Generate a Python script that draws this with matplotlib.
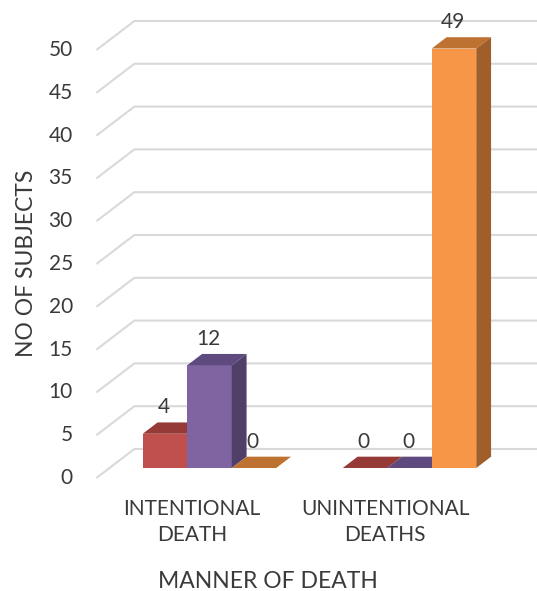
import matplotlib.pyplot as plt
from matplotlib.patches import Polygon

categories = ['INTENTIONAL\nDEATH', 'UNINTENTIONAL\nDEATHS']
red_vals = [4, 0]
purple_vals = [12, 0]
orange_vals = [0, 49]
yticks = [0, 5, 10, 15, 20, 25, 30, 35, 40, 45, 50]

# front / top / side colours for each series
front_cols = ['#C0504D', '#8064A2', '#F79646']
top_cols = ['#953A37', '#5F4A7F', '#BE7231']
side_cols = ['#8A3532', '#504069', '#A05E2A']

plt.rcParams['font.family'] = ['Lato', 'DejaVu Sans']
txt_col = '#3A3A3A'

fig = plt.figure(figsize=(5.37, 5.91), dpi=100)
ax = fig.add_axes([0, 0, 1, 1])
ax.set_xlim(-1.0475, 1.6375)
ax.set_ylim(-14.37, 54.67)
ax.axis('off')

# depth direction in data units (one full floor depth)
DX = 0.19
DY = 3.39
d_front = -0.345
d_back = 0.655
d_bar = 0.39


def proj(x, v, d):
    return (x + d * DX, v + d * DY)


# gridlines: floor/left wall edge then the back wall
for v in yticks:
    p1 = proj(-0.5, v, d_front)
    p2 = proj(-0.5, v, d_back)
    ax.plot([p1[0], p2[0], 1.64], [p1[1], p2[1], p2[1]],
            color='#D9D9D9', lw=1.5, zorder=1, solid_capstyle='butt')
    ax.annotate(str(v), xy=p1, xytext=(-17, 0), textcoords='offset points',
                ha='right', va='center', fontsize=15, color=txt_col)

series = [red_vals, purple_vals, orange_vals]
w = 0.2225
for i in range(len(categories)):
    for j, vals in enumerate(series):
        v = vals[i]
        left = i - 1.5 * w + j * w
        z = 3 + i * 10 + j
        ax.bar(left, v, width=w, align='edge', color=front_cols[j], zorder=z)
        top = [proj(left, v, 0), proj(left + w, v, 0),
               proj(left + w, v, d_bar), proj(left, v, d_bar)]
        ax.add_patch(Polygon(top, closed=True, color=top_cols[j], lw=0, zorder=z))
        if v > 0:
            side = [proj(left + w, 0, 0), proj(left + w, v, 0),
                    proj(left + w, v, d_bar), proj(left + w, 0, d_bar)]
            ax.add_patch(Polygon(side, closed=True, color=side_cols[j], lw=0, zorder=z))
        ax.annotate(str(v), xy=(left + w / 2, v), xytext=(-1, 19),
                    textcoords='offset points', ha='center', va='center',
                    fontsize=15, color=txt_col, zorder=30)

    # category labels sit on the front edge of the floor
    cx, cy = proj(i, 0, d_front)
    ax.annotate(categories[i], xy=(cx, cy), xytext=(-3 - 5 * i, -15),
                textcoords='offset points', ha='center', va='top',
                multialignment='center', linespacing=1.4,
                fontsize=15, color=txt_col)

fig.text(268 / 537, 1 - 581 / 591, 'MANNER OF DEATH', ha='center', va='center',
         fontsize=16.5, color=txt_col)
fig.text(27 / 537, 1 - 263 / 591, 'NO OF SUBJECTS', ha='center', va='center',
         rotation=90, fontsize=16.5, color=txt_col)

fig.savefig('out.png', dpi=100)
